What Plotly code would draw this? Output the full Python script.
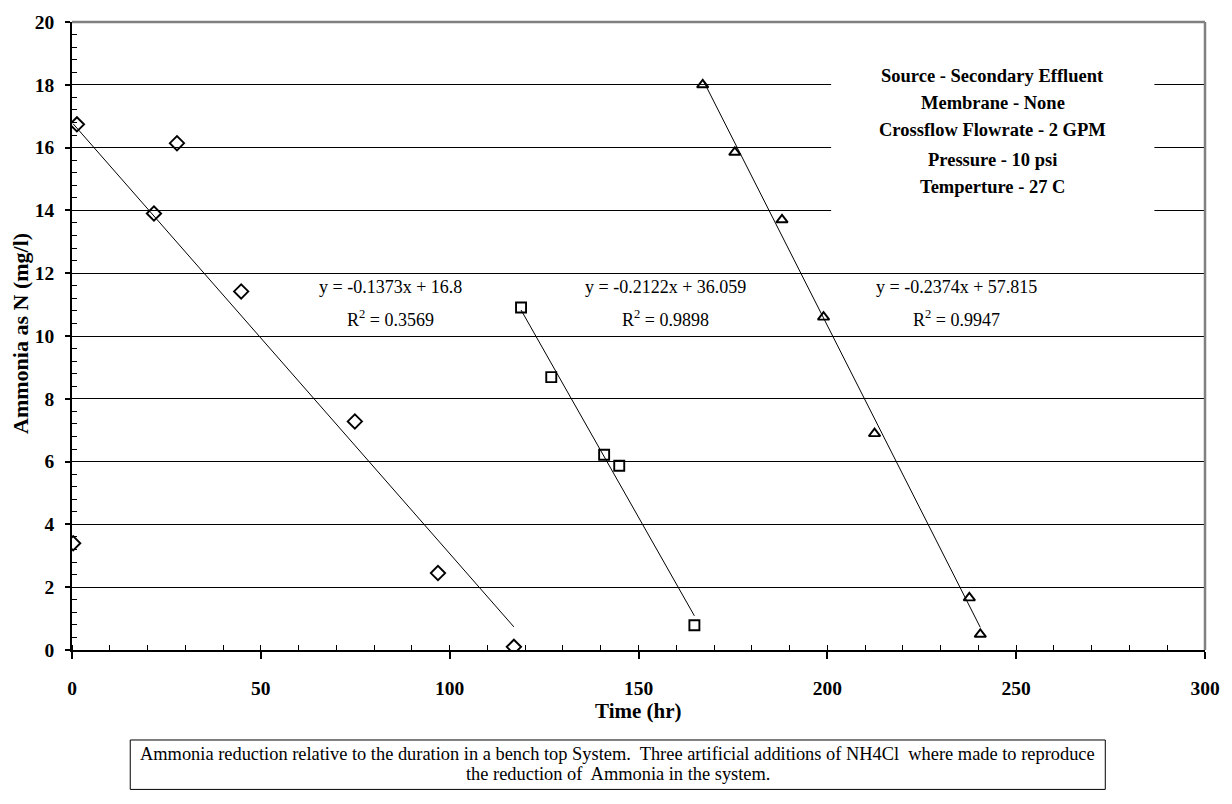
import plotly.graph_objects as go

# ---- data ----
t1 = [0.3, 1.3, 21.7, 27.8, 44.8, 74.9, 96.9, 117.0]
n1 = [3.4, 16.74, 13.9, 16.14, 11.42, 7.28, 2.45, 0.1]

t2 = [118.9, 126.9, 140.9, 144.9, 164.8]
n2 = [10.91, 8.69, 6.22, 5.87, 0.79]

t3 = [167.0, 175.5, 188.0, 199.0, 212.5, 237.6, 240.5]
n3 = [18.0, 15.85, 13.7, 10.6, 6.89, 1.66, 0.5]

slopes = [-0.1373, -0.2122, -0.2374]
intercepts = [16.8, 36.059, 57.815]
r2_values = ["0.3569", "0.9898", "0.9947"]
eq_label_x = [84.4, 157.1, 234.2]

info_lines = [
    "Source - Secondary Effluent",
    "Membrane - None",
    "Crossflow Flowrate - 2 GPM",
    "Pressure - 10 psi",
    "Temperture - 27 C",
]
caption_lines = [
    "Ammonia reduction relative to the duration in a bench top System.  "
    "Three artificial additions of NH4Cl  where made to reproduce",
    "the reduction of  Ammonia in the system.",
]

x_ticks = [0, 50, 100, 150, 200, 250, 300]
y_ticks = [0, 2, 4, 6, 8, 10, 12, 14, 16, 18, 20]

FONT = "Liberation Serif, Times New Roman, serif"

fig = go.Figure()

series = [
    (t1, n1, "diamond-open", 11),
    (t2, n2, "square-open", 10),
    (t3, n3, "triangle-up-open", 10),
]
for i, (tx, ny, sym, sz) in enumerate(series):
    x0, x1 = min(tx), max(tx)
    fig.add_trace(go.Scatter(
        x=[x0, x1],
        y=[slopes[i] * x0 + intercepts[i], slopes[i] * x1 + intercepts[i]],
        mode="lines", line=dict(color="black", width=1),
        showlegend=False, hoverinfo="skip"))
    fig.add_trace(go.Scatter(
        x=tx, y=ny, mode="markers",
        marker=dict(symbol=sym, size=sz, color="black",
                    line=dict(color="black", width=1.9)),
        showlegend=False))

# white box behind the info text (hides gridlines)
fig.add_shape(type="rect", xref="x", yref="y", x0=201.0, x1=286.6, y0=12.7, y1=19.6,
              fillcolor="white", line=dict(width=0), layer="above")

# top and right grey borders
fig.add_shape(type="line", xref="paper", yref="paper", x0=0, x1=1, y0=1, y1=1,
              line=dict(color="#808080", width=2.5), layer="above")
fig.add_shape(type="line", xref="paper", yref="paper", x0=1, x1=1, y0=0, y1=1,
              line=dict(color="#808080", width=2.5), layer="above")

# equation annotations
for i in range(3):
    fig.add_annotation(x=eq_label_x[i], y=11.57, xref="x", yref="y",
                       text=f"y = {slopes[i]}x + {intercepts[i]}",
                       showarrow=False, font=dict(family=FONT, size=18, color="black"))
    fig.add_annotation(x=eq_label_x[i], y=10.55, xref="x", yref="y",
                       text=f"R<sup>2</sup> = {r2_values[i]}",
                       showarrow=False, font=dict(family=FONT, size=18, color="black"))

# info text
info_y = [18.28, 17.43, 16.55, 15.61, 14.76]
for line, yy in zip(info_lines, info_y):
    fig.add_annotation(x=243.8, y=yy, xref="x", yref="y", text=f"<b>{line}</b>",
                       showarrow=False, font=dict(family=FONT, size=18.5, color="black"))

# axis titles
fig.add_annotation(x=0.5, y=-0.097, xref="paper", yref="paper", text="<b>Time (hr)</b>",
                   showarrow=False, yanchor="middle",
                   font=dict(family=FONT, size=21, color="black"))
fig.add_annotation(x=-0.0455, y=0.504, xref="paper", yref="paper",
                   text="<b>Ammonia as N (mg/l)</b>", textangle=-90,
                   showarrow=False, xanchor="center", yanchor="middle",
                   font=dict(family=FONT, size=22, color="black"))

# caption box
fig.add_shape(type="rect", xref="paper", yref="paper", x0=0.0514, x1=0.912,
              y0=-0.222, y1=-0.1433, line=dict(color="black", width=1),
              fillcolor="white")
for line, yy in zip(caption_lines, [-0.165, -0.198]):
    fig.add_annotation(x=0.4817, y=yy, xref="paper", yref="paper", text=line,
                       showarrow=False, yanchor="middle", align="center",
                       font=dict(family=FONT, size=18.4, color="black"))

fig.update_xaxes(range=[0, 300], tickvals=x_ticks, showgrid=False, zeroline=False,
                 showline=True, linecolor="black", linewidth=1.5,
                 ticks="outside", ticklen=7, tickwidth=1.5, tickcolor="black",
                 minor=dict(dtick=10, ticks="inside", ticklen=5, tickcolor="black", tickwidth=1),
                 ticklabelstandoff=13,
                 tickfont=dict(family=FONT, size=19.5, color="black", weight="bold"))
fig.update_yaxes(range=[0, 20], tickvals=y_ticks, showgrid=True, gridcolor="black",
                 gridwidth=1, zeroline=False,
                 showline=True, linecolor="black", linewidth=1.5,
                 ticks="outside", ticklen=5, tickwidth=1.5, tickcolor="black",
                 minor=dict(dtick=0.4, ticks="inside", ticklen=5, tickcolor="black", tickwidth=1),
                 ticklabelstandoff=7,
                 tickfont=dict(family=FONT, size=19.5, color="black", weight="bold"))

fig.update_layout(width=1232, height=804, plot_bgcolor="white", paper_bgcolor="white",
                  margin=dict(l=72, r=25, t=15, b=154), showlegend=False)

fig.write_html("out.html")
